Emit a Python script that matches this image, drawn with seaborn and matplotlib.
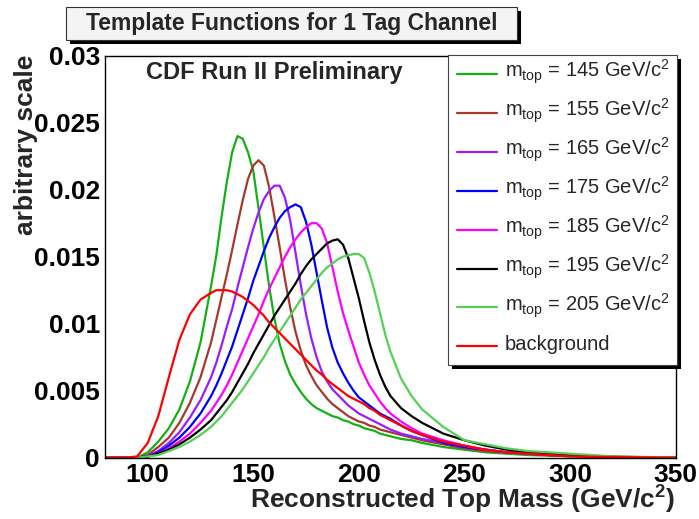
import matplotlib
matplotlib.use("Agg")
import matplotlib.pyplot as plt
from matplotlib.patches import Rectangle
from matplotlib.lines import Line2D
from matplotlib.ticker import MultipleLocator
import pandas as pd
import seaborn as sns

sns.set_theme(style="white")
plt.rcParams["font.family"] = ["Liberation Sans", "DejaVu Sans"]
plt.rcParams["mathtext.default"] = "regular"

# reconstructed top mass grid (GeV/c^2)
mass = [80, 90, 95, 100, 105, 110, 115, 120, 125, 130,
        132.5, 135, 137.5, 140, 142.5, 145, 147.5, 150, 152.5, 155, 157.5, 160,
        162.5, 165, 167.5, 170, 172.5, 175, 177.5, 180, 182.5, 185, 187.5, 190,
        192.5, 195, 197.5, 200, 202.5, 205, 207.5, 210, 212.5, 215,
        220, 225, 230, 240, 250, 260, 270, 280, 290, 300, 320, 350]

m145 = [0, 0, 0, 0.0004, 0.0012, 0.0022, 0.0036, 0.0057, 0.0086, 0.0128,
        0.0151, 0.0180, 0.0206, 0.0228, 0.0240, 0.0238, 0.0228, 0.0214, 0.0186, 0.0157, 0.0128, 0.0104,
        0.0085, 0.0072, 0.0062, 0.0055, 0.0049, 0.0044, 0.0040, 0.0037, 0.0035, 0.0033, 0.0031, 0.0030,
        0.0028, 0.0027, 0.0025, 0.0024, 0.0022, 0.0021, 0.0020, 0.0018, 0.0017, 0.0016,
        0.0014, 0.0013, 0.0011, 0.0008, 0.0006, 0.0004, 0.0003, 0.0002, 0.00015, 0.0001, 0.00004, 0]
m155 = [0, 0, 0, 0.0002, 0.0008, 0.0015, 0.0026, 0.0041, 0.0060, 0.0086,
        0.0103, 0.0120, 0.0137, 0.0155, 0.0174, 0.0192, 0.0208, 0.0218, 0.0222, 0.0218, 0.0202, 0.0180,
        0.0157, 0.0133, 0.0112, 0.0094, 0.0080, 0.0069, 0.0061, 0.0054, 0.0049, 0.0044, 0.0040, 0.0037,
        0.0034, 0.0031, 0.0029, 0.0027, 0.0026, 0.0024, 0.0023, 0.0021, 0.0020, 0.0019,
        0.0017, 0.0015, 0.0013, 0.0010, 0.0007, 0.0005, 0.0004, 0.0003, 0.0002, 0.00015, 0.00005, 0]
m165 = [0, 0, 0, 0.0001, 0.0005, 0.0011, 0.0019, 0.0030, 0.0043, 0.0060,
        0.0071, 0.0084, 0.0098, 0.0111, 0.0127, 0.0142, 0.0157, 0.0171, 0.0183, 0.0193, 0.0199, 0.0203,
        0.0203, 0.0194, 0.0177, 0.0153, 0.0129, 0.0107, 0.0089, 0.0075, 0.0064, 0.0057, 0.0051, 0.0047,
        0.0043, 0.0039, 0.0036, 0.0033, 0.0031, 0.0029, 0.0027, 0.0025, 0.0023, 0.0021,
        0.0018, 0.0016, 0.0014, 0.0011, 0.0008, 0.0006, 0.0004, 0.0003, 0.0002, 0.00015, 0.00005, 0]
m175 = [0, 0, 0, 0.0001, 0.0004, 0.0009, 0.0015, 0.0023, 0.0033, 0.0046,
        0.0054, 0.0063, 0.0073, 0.0083, 0.0095, 0.0107, 0.0119, 0.0132, 0.0143, 0.0154, 0.0164, 0.0172,
        0.0179, 0.0184, 0.0187, 0.0189, 0.0187, 0.0176, 0.0159, 0.0138, 0.0117, 0.0097, 0.0082, 0.0071,
        0.0063, 0.0056, 0.0050, 0.0045, 0.0042, 0.0039, 0.0036, 0.0033, 0.0031, 0.0029,
        0.0024, 0.0020, 0.0017, 0.0011, 0.0008, 0.0006, 0.0004, 0.0003, 0.0002, 0.00015, 0.00005, 0]
m185 = [0, 0, 0, 0.0001, 0.0003, 0.0007, 0.0012, 0.0018, 0.0026, 0.0035,
        0.0041, 0.0047, 0.0054, 0.0062, 0.0071, 0.0080, 0.0089, 0.0098, 0.0107, 0.0117, 0.0126, 0.0134,
        0.0142, 0.0150, 0.0157, 0.0163, 0.0168, 0.0172, 0.0175, 0.0175, 0.0171, 0.0160, 0.0142, 0.0124,
        0.0108, 0.0095, 0.0083, 0.0071, 0.0062, 0.0054, 0.0048, 0.0042, 0.0037, 0.0033,
        0.0027, 0.0022, 0.0018, 0.0013, 0.0009, 0.0006, 0.0004, 0.0003, 0.0002, 0.00015, 0.00005, 0]
m195 = [0, 0, 0, 0.0001, 0.0003, 0.0006, 0.0010, 0.0015, 0.0021, 0.0028,
        0.0033, 0.0038, 0.0043, 0.0049, 0.0056, 0.0063, 0.0070, 0.0078, 0.0085, 0.0092, 0.0099, 0.0106,
        0.0112, 0.0118, 0.0124, 0.0130, 0.0137, 0.0143, 0.0148, 0.0152, 0.0156, 0.0160, 0.0162, 0.0163,
        0.0159, 0.0149, 0.0134, 0.0119, 0.0102, 0.0086, 0.0073, 0.0062, 0.0053, 0.0046,
        0.0037, 0.0031, 0.0026, 0.0018, 0.0013, 0.0009, 0.0006, 0.0004, 0.0003, 0.0002, 0.00008, 0]
m205 = [0, 0, 0, 0.0001, 0.0002, 0.0005, 0.0008, 0.0012, 0.0017, 0.0023,
        0.0027, 0.0031, 0.0036, 0.0041, 0.0046, 0.0051, 0.0057, 0.0063, 0.0069, 0.0075, 0.0082, 0.0088,
        0.0094, 0.0100, 0.0106, 0.0112, 0.0118, 0.0123, 0.0128, 0.0133, 0.0138, 0.0142, 0.0145, 0.0148,
        0.0150, 0.0151, 0.0152, 0.0152, 0.0149, 0.0138, 0.0124, 0.0108, 0.0092, 0.0079,
        0.0059, 0.0046, 0.0036, 0.0023, 0.0013, 0.0010, 0.0007, 0.0005, 0.0004, 0.0003, 0.0001, 0.00002]
background = [0, 0, 0.0001, 0.0011, 0.0031, 0.0060, 0.0088, 0.0107, 0.0118, 0.0123,
              0.0125, 0.0125, 0.0125, 0.0124, 0.0122, 0.0120, 0.0117, 0.0114, 0.0110, 0.0106, 0.0101, 0.0097,
              0.0093, 0.0089, 0.0085, 0.0081, 0.0077, 0.0073, 0.0069, 0.0065, 0.0062, 0.0058, 0.0055, 0.0052,
              0.0049, 0.0046, 0.0044, 0.0042, 0.0040, 0.0037, 0.0035, 0.0032, 0.0030, 0.0028,
              0.0024, 0.0020, 0.0017, 0.0012, 0.0009, 0.0006, 0.0004, 0.0003, 0.0002, 0.0001, 0.00005, 0]

series_names = ["145", "155", "165", "175", "185", "195", "205", "background"]
series_values = [m145, m155, m165, m175, m185, m195, m205, background]
colors = ["#14b014", "#a8382e", "#9a1cff", "#0000ff", "#ff00ff", "#000000", "#55d055", "#ff0000"]
legend_labels = [r"m$_{top}$ = %s GeV/c$^{2}$" % n for n in series_names[:-1]] + ["background"]

y_ticks = [0, 0.005, 0.01, 0.015, 0.02, 0.025, 0.03]
y_tick_labels = ["0", "0.005", "0.01", "0.015", "0.02", "0.025", "0.03"]
x_ticks = [100, 150, 200, 250, 300, 350]

rows = []
for name, vals in zip(series_names, series_values):
    for m, v in zip(mass, vals):
        rows.append({"mass": m, "value": v, "template": name})
df = pd.DataFrame(rows)

W, H = 699, 519
fx = lambda px: px / W
fy = lambda py: 1 - py / H

fig = plt.figure(figsize=(W / 100, H / 100), dpi=100)
ax = fig.add_axes([fx(105.5), fy(457.7), (675.5 - 105.5) / W, (457.7 - 55.7) / H])

sns.lineplot(data=df, x="mass", y="value", hue="template", hue_order=series_names,
             palette=dict(zip(series_names, colors)), estimator=None, sort=False,
             linewidth=1.6, legend=False, ax=ax)

ax.set_xlim(80, 350)
ax.set_ylim(0, 0.03)
ax.set_xticks(x_ticks)
ax.set_yticks(y_ticks, labels=y_tick_labels)
ax.xaxis.set_minor_locator(MultipleLocator(10))
ax.yaxis.set_minor_locator(MultipleLocator(0.001))
ax.set_xlabel("")
ax.set_ylabel("")
for s in ax.spines.values():
    s.set_color("black")
    s.set_linewidth(1.0)
ax.tick_params(axis="both", which="both", direction="in", colors="black",
               top=False, right=False)
ax.tick_params(axis="y", which="major", length=12, width=1, pad=4, labelsize=19)
ax.tick_params(axis="y", which="minor", length=6, width=1)
ax.tick_params(axis="x", which="major", length=9, width=1, pad=3.5, labelsize=19)
ax.tick_params(axis="x", which="minor", length=4.5, width=1)
for lab in ax.get_xticklabels() + ax.get_yticklabels():
    lab.set_fontweight("bold")

# axis titles, ROOT style (flush with the frame ends)
fig.text(fx(675.5), fy(509), r"Reconstructed Top Mass (GeV/c$^{2}$)", ha="right",
         va="baseline", fontsize=19, fontweight="bold")
fig.text(fx(26), fy(55), "arbitrary scale", rotation=90, ha="center", va="top",
         fontsize=19, fontweight="bold")
fig.text(fx(146), fy(73), "CDF Run II Preliminary", ha="left", va="center",
         fontsize=17, fontweight="bold")

# title box with shadow
fig.add_artist(Rectangle((fx(70), fy(44)), (517 - 66) / W, (40 - 7) / H,
                         transform=fig.transFigure, facecolor="black", edgecolor="none"))
fig.add_artist(Rectangle((fx(66), fy(40)), (517 - 66) / W, (40 - 7) / H,
                         transform=fig.transFigure, facecolor="#f4f4f4", edgecolor="#333333", lw=0.8))
fig.text(fx(291.5), fy(23.5), "Template Functions for 1 Tag Channel", ha="center",
         va="center", fontsize=16.5, fontweight="bold")

# legend box with shadow
fig.add_artist(Rectangle((fx(452), fy(369)), (677 - 448) / W, (365 - 55) / H,
                         transform=fig.transFigure, facecolor="black", edgecolor="none"))
fig.add_artist(Rectangle((fx(448), fy(365)), (677 - 448) / W, (365 - 55) / H,
                         transform=fig.transFigure, facecolor="white", edgecolor="#444444", lw=0.8))
for i, (lab, c) in enumerate(zip(legend_labels, colors)):
    ly = 74 + 38.9 * i
    fig.add_artist(Line2D([fx(457), fx(497)], [fy(ly), fy(ly)], transform=fig.transFigure,
                          color=c, lw=1.6))
    fig.text(fx(505), fy(ly + 4), lab, ha="left", va="baseline", fontsize=14.5)

fig.savefig("out.png", dpi=100)
